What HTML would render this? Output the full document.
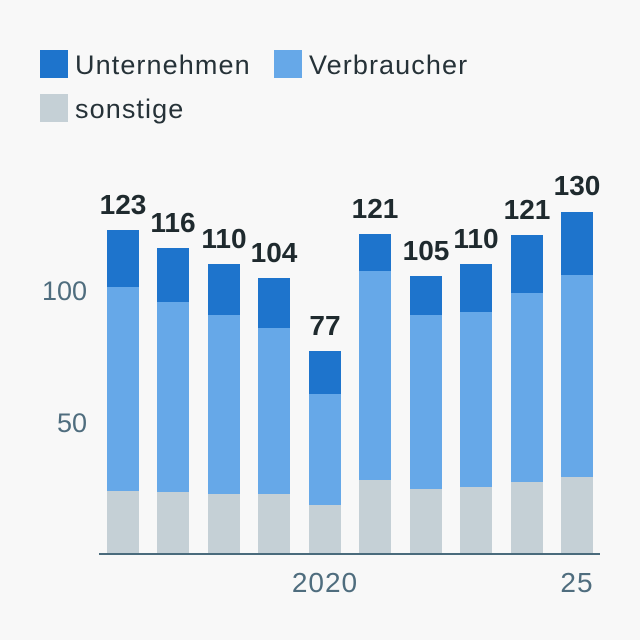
<!DOCTYPE html>
<html><head><meta charset="utf-8"><style>
html,body{margin:0;padding:0;background:#f8f8f8;}
svg{display:block;}
</style></head><body>
<svg width="640" height="640" viewBox="0 0 640 640" xmlns="http://www.w3.org/2000/svg">
<rect width="640" height="640" fill="#f8f8f8"/>
<g font-family="Liberation Sans, sans-serif">
<!-- legend -->
<rect x="40" y="50" width="28" height="28" fill="#1e74cc"/>
<text x="75" y="74" font-size="27" letter-spacing="1.1" fill="#263238">Unternehmen</text>
<rect x="274" y="50" width="28" height="28" fill="#66a8e8"/>
<text x="309" y="74" font-size="27" letter-spacing="1.1" fill="#263238">Verbraucher</text>
<rect x="40" y="94" width="28" height="28" fill="#c5d0d6"/>
<text x="75" y="118" font-size="27" letter-spacing="1.1" fill="#263238">sonstige</text>
<!-- y ticks -->
<text x="87" y="300" font-size="27" text-anchor="end" fill="#4f6d7e">100</text>
<text x="87" y="432" font-size="27" text-anchor="end" fill="#4f6d7e">50</text>
<!-- bars -->
<g>
<rect x="107" y="230" width="32" height="57" fill="#1e74cc"/><rect x="107" y="287" width="32" height="204" fill="#66a8e8"/><rect x="107" y="491" width="32" height="62" fill="#c5d0d6"/>
<rect x="157" y="248" width="32" height="54" fill="#1e74cc"/><rect x="157" y="302" width="32" height="190" fill="#66a8e8"/><rect x="157" y="492" width="32" height="61" fill="#c5d0d6"/>
<rect x="208" y="264" width="32" height="51" fill="#1e74cc"/><rect x="208" y="315" width="32" height="179" fill="#66a8e8"/><rect x="208" y="494" width="32" height="59" fill="#c5d0d6"/>
<rect x="258" y="278" width="32" height="50" fill="#1e74cc"/><rect x="258" y="328" width="32" height="166" fill="#66a8e8"/><rect x="258" y="494" width="32" height="59" fill="#c5d0d6"/>
<rect x="309" y="351" width="32" height="43" fill="#1e74cc"/><rect x="309" y="394" width="32" height="111" fill="#66a8e8"/><rect x="309" y="505" width="32" height="48" fill="#c5d0d6"/>
<rect x="359" y="234" width="32" height="37" fill="#1e74cc"/><rect x="359" y="271" width="32" height="209" fill="#66a8e8"/><rect x="359" y="480" width="32" height="73" fill="#c5d0d6"/>
<rect x="410" y="276" width="32" height="39" fill="#1e74cc"/><rect x="410" y="315" width="32" height="174" fill="#66a8e8"/><rect x="410" y="489" width="32" height="64" fill="#c5d0d6"/>
<rect x="460" y="264" width="32" height="48" fill="#1e74cc"/><rect x="460" y="312" width="32" height="175" fill="#66a8e8"/><rect x="460" y="487" width="32" height="66" fill="#c5d0d6"/>
<rect x="511" y="235" width="32" height="58" fill="#1e74cc"/><rect x="511" y="293" width="32" height="189" fill="#66a8e8"/><rect x="511" y="482" width="32" height="71" fill="#c5d0d6"/>
<rect x="561" y="212" width="32" height="63" fill="#1e74cc"/><rect x="561" y="275" width="32" height="202" fill="#66a8e8"/><rect x="561" y="477" width="32" height="76" fill="#c5d0d6"/>
</g>
<!-- value labels -->
<g font-size="28" font-weight="bold" text-anchor="middle" fill="#1f2a2e">
<text x="123" y="214">123</text>
<text x="173" y="232">116</text>
<text x="224" y="248">110</text>
<text x="274" y="262">104</text>
<text x="325" y="335">77</text>
<text x="375" y="218">121</text>
<text x="426" y="260">105</text>
<text x="476" y="248">110</text>
<text x="527" y="219">121</text>
<text x="577" y="195">130</text>
</g>
<!-- axis -->
<rect x="99" y="553" width="501" height="2" fill="#4a6b7c"/>
<text x="325" y="592" font-size="28" letter-spacing="1" text-anchor="middle" fill="#4f6d7e">2020</text>
<text x="577" y="592" font-size="28" letter-spacing="1" text-anchor="middle" fill="#4f6d7e">25</text>
</g>
</svg>
</body></html>
